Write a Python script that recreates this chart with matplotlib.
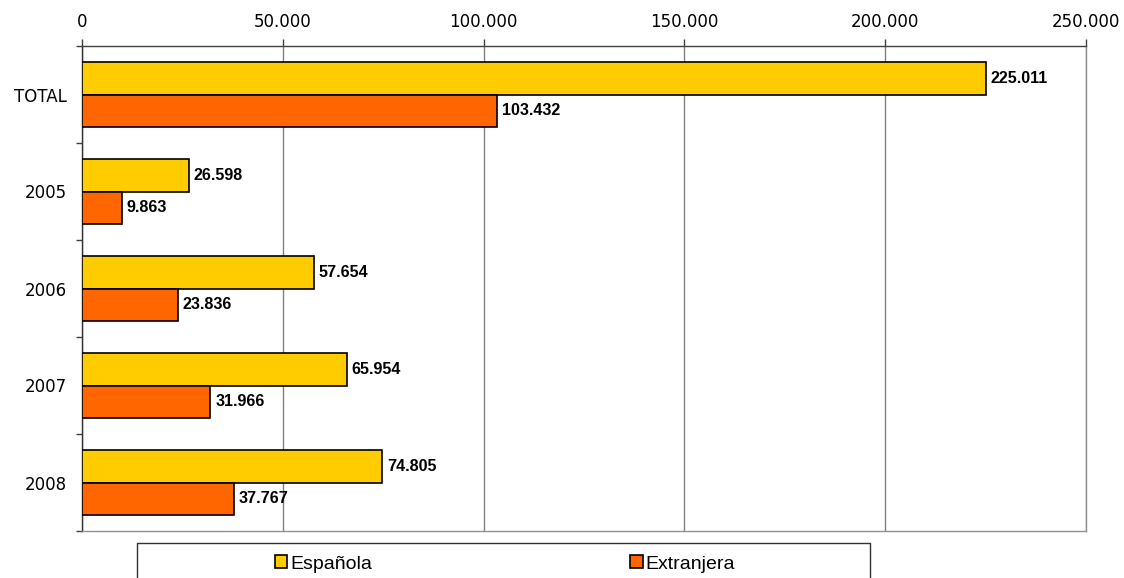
import numpy as np
import matplotlib.pyplot as plt
from matplotlib.patches import Rectangle

categories = ['TOTAL', '2005', '2006', '2007', '2008']
espanola = [225011, 26598, 57654, 65954, 74805]
extranjera = [103432, 9863, 23836, 31966, 37767]
series_names = ['Española', 'Extranjera']
xticks = [0, 50000, 100000, 150000, 200000, 250000]


def fmt(v):
    return f"{v:,}".replace(',', '.')


fig = plt.figure(figsize=(11.24, 5.78), dpi=100)
ax = fig.add_axes([82 / 1124, 1 - 531 / 578, (1086 - 82) / 1124, (531 - 46) / 578])

y = np.arange(len(categories))
h = 0.33
b1 = ax.barh(y - h / 2, espanola, height=h, color='#FFCC00', edgecolor='black', linewidth=1.2,
             label=series_names[0], zorder=3)
b2 = ax.barh(y + h / 2, extranjera, height=h, color='#FF6600', edgecolor='black', linewidth=1.2,
             label=series_names[1], zorder=3)

for bars, vals in ((b1, espanola), (b2, extranjera)):
    for bar, v in zip(bars, vals):
        ax.annotate(fmt(v), (v, bar.get_y() + bar.get_height() / 2), xytext=(3.5, 0),
                    textcoords='offset points', va='center', ha='left',
                    fontsize=11.6, fontweight='bold', family='Liberation Sans', zorder=4)

ax.set_xlim(0, 250000)
ax.set_ylim(len(categories) - 0.5, -0.5)

ax.xaxis.tick_top()
ax.set_xticks(xticks)
ax.set_xticklabels([fmt(t) for t in xticks], fontsize=12, family='DejaVu Sans')
ax.tick_params(axis='x', direction='out', length=5, pad=6, width=1, color='#404040')
ax.grid(axis='x', color='#808080', linewidth=1, zorder=0)

ax.set_yticks(y)
ax.set_yticklabels(categories, fontsize=12, family='DejaVu Sans')
ax.set_yticks(np.arange(len(categories) + 1) - 0.5, minor=True)
ax.tick_params(axis='y', which='major', length=0, pad=11)
ax.tick_params(axis='y', which='minor', direction='out', length=4.5, width=1, color='#404040')

ax.spines['left'].set_color('#303030')
ax.spines['top'].set_color('#404040')
ax.spines['right'].set_color('#909090')
ax.spines['bottom'].set_color('#909090')
for s in ax.spines.values():
    s.set_linewidth(1)

# legend frame runs off the bottom edge
fig.patches.append(Rectangle((137 / 1124, -0.05), (870 - 137) / 1124, 0.05 + 1 - 543 / 578,
                             transform=fig.transFigure, fill=False, edgecolor='#303030',
                             linewidth=1, zorder=5))
fig.legend(handles=[b1, b2], loc='center', bbox_to_anchor=(505 / 1124, 1 - 564 / 578),
           ncol=2, frameon=False, prop={'family': 'Liberation Sans', 'size': 14},
           handlelength=0.62, handleheight=0.62, handletextpad=0.15, columnspacing=13.3,
           borderpad=0)

fig.savefig('out.png', dpi=100)
